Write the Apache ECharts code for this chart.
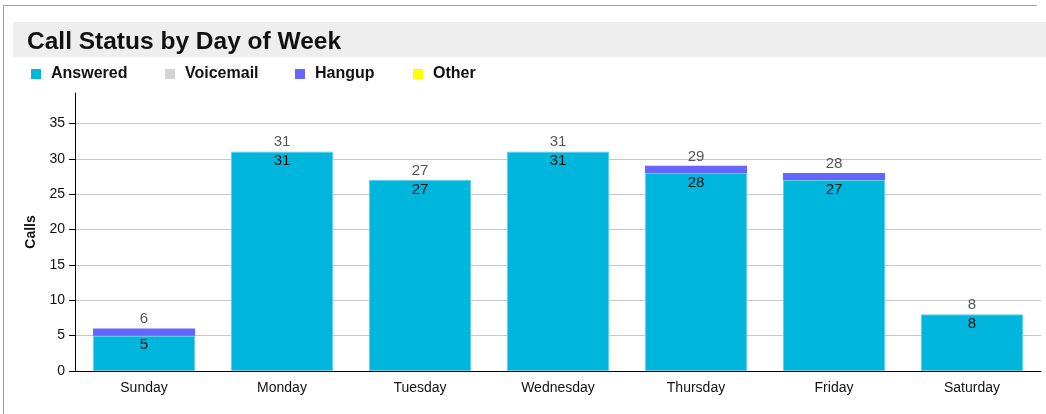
<!DOCTYPE html>
<html>
<head>
<meta charset="utf-8">
<script src="https://cdn.jsdelivr.net/npm/echarts@6/dist/echarts.min.js"></script>
<style>
  html, body { margin: 0; padding: 0; background: #fff; }
  #frame { position: absolute; left: 3px; top: 5px; width: 1034px; height: 420px;
           border-top: 1px solid #a0a0a0; border-left: 1px solid #a0a0a0; box-sizing: border-box; }
  #chart { position: absolute; left: 0; top: 0; width: 1046px; height: 414px; }
</style>
</head>
<body>
<div id="frame"></div>
<div id="chart"></div>
<script>
const days = ['Sunday', 'Monday', 'Tuesday', 'Wednesday', 'Thursday', 'Friday', 'Saturday'];
const answered = [5, 31, 27, 31, 28, 27, 8];
const voicemail = [0, 0, 0, 0, 0, 0, 0];
const hangup = [1, 0, 0, 0, 1, 1, 0];
const other = [0, 0, 0, 0, 0, 0, 0];
const yTicks = [0, 5, 10, 15, 20, 25, 30, 35];

const totals = days.map((d, i) => answered[i] + voicemail[i] + hangup[i] + other[i]);

const FONT = 'Liberation Sans';
const chart = echarts.init(document.getElementById('chart'), null, { renderer: 'canvas' });

function legendItem(name, left) {
  return {
    data: [name], left: left, top: 66, itemWidth: 10, itemHeight: 10, itemGap: 0, padding: 0,
    icon: 'rect', selectedMode: false,
    itemStyle: { borderWidth: 0 },
    textStyle: { fontFamily: FONT, fontWeight: 'bold', fontSize: 16, color: '#111', padding: [0, 0, 0, 5] }
  };
}

const option = {
  animation: false,
  graphic: [{
    type: 'rect', left: 13, top: 22, z: -10,
    shape: { width: 1033, height: 35 },
    style: { fill: '#eeeeee' }
  }],
  title: {
    text: 'Call Status by Day of Week', left: 22, top: 25,
    textStyle: { fontFamily: FONT, fontWeight: 'bold', fontSize: 24.5, color: '#111' }
  },
  legend: [
    legendItem('Answered', 31),
    legendItem('Voicemail', 165),
    legendItem('Hangup', 295),
    legendItem('Other', 413)
  ],
  grid: { left: 75, right: 5, top: 93, bottom: 43, containLabel: false },
  xAxis: {
    type: 'category', data: days,
    axisLine: { lineStyle: { color: '#000', width: 1 } },
    axisTick: { alignWithLabel: true, length: 5, lineStyle: { color: '#000' } },
    axisLabel: { fontFamily: FONT, fontSize: 14, color: '#111', margin: 10 }
  },
  yAxis: {
    type: 'value', min: 0, max: 39.3, interval: 5,
    name: 'Calls', nameLocation: 'middle', nameGap: 36, nameRotate: 90,
    nameTextStyle: { fontFamily: FONT, fontWeight: 'bold', fontSize: 14, color: '#111' },
    axisLine: { show: true, lineStyle: { color: '#000', width: 1 } },
    axisTick: { show: true, inside: false, length: 6, lineStyle: { color: '#000', width: 1 }, customValues: yTicks },
    axisLabel: { fontFamily: FONT, fontSize: 14, color: '#111', margin: 10, customValues: yTicks },
    splitLine: { show: true, lineStyle: { color: '#c8c8c8', width: 1 } }
  },
  series: [
    {
      name: 'Answered', type: 'bar', stack: 'calls', data: answered, barCategoryGap: '26%',
      itemStyle: { color: '#00b6dc', borderColor: '#5fd0ec', borderWidth: 1 },
      label: { show: true, position: 'insideTop', distance: 2, fontFamily: FONT, fontSize: 15, color: '#111' }
    },
    {
      name: 'Voicemail', type: 'bar', stack: 'calls', data: voicemail,
      itemStyle: { color: '#d3d3d3' }
    },
    {
      name: 'Hangup', type: 'bar', stack: 'calls', data: hangup,
      itemStyle: { color: '#6666ff' }
    },
    {
      name: 'Other', type: 'bar', stack: 'calls', data: other,
      itemStyle: { color: '#ffff00' }
    },
    {
      name: 'Total', type: 'bar', stack: 'calls', data: days.map(() => 0),
      itemStyle: { color: 'transparent' },
      label: {
        show: true, position: 'top', distance: 2, fontFamily: FONT, fontSize: 15, color: '#555',
        formatter: p => String(totals[p.dataIndex])
      }
    }
  ]
};
chart.setOption(option);
</script>
</body>
</html>
